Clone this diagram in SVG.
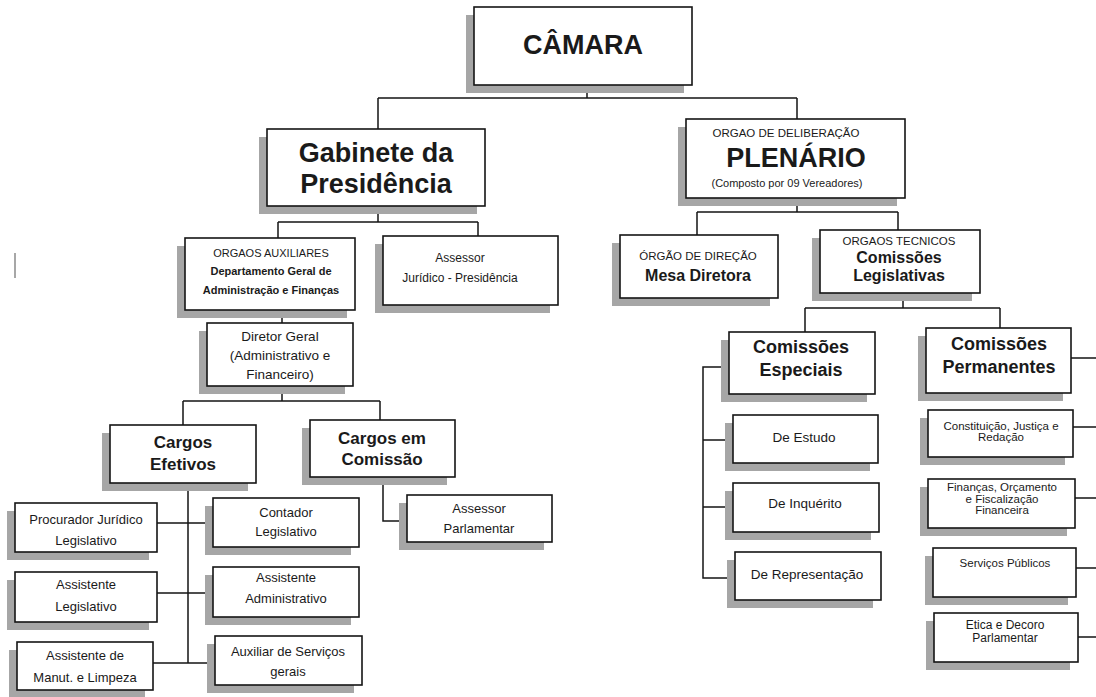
<svg xmlns="http://www.w3.org/2000/svg" width="1096" height="697" viewBox="0 0 1096 697">
<style>
.sh{fill:#a6a6a6}
.bx{fill:#fff;stroke:#151515;stroke-width:1.6}
.cn{fill:none;stroke:#151515;stroke-width:1.5}
text{font-family:"Liberation Sans",Arial,sans-serif;fill:#1a1a1a;text-anchor:middle}
.b{font-weight:bold}
</style>
<rect width="1096" height="697" fill="#fff"/>
<line x1="15" y1="253" x2="15" y2="278" stroke="#8a8a8a" stroke-width="1.5"/>
<g id="connectors" class="cn">
<path d="M587,85V98M378,98H797M378,98V129M797,98V119"/>
<path d="M378,206V222M278,222H478M278,222V238M478,222V236"/>
<path d="M797,198V212M697,212H898M697,212V235M898,212V230"/>
<path d="M282,310V323"/>
<path d="M282,386V401M183,401H380M183,401V425M380,401V420"/>
<path d="M188,483V663M157,523H213M157,593H213M153,663H215"/>
<path d="M383,477V521H407"/>
<path d="M903,293V308M805,308H1000M805,308V332M1000,308V328"/>
<path d="M729,367H703V578H735M703,440H733M703,507H733"/>
<path d="M1071,358H1096M1073,427H1096M1075,498H1096M1076,568H1096M1078,637H1096"/>
</g>
<g id="camara"><rect class="sh" x="466" y="15" width="218" height="78"/><rect class="bx" x="474" y="7" width="218" height="78"/><text class="b" x="583" y="54" font-size="27">CÂMARA</text></g>
<g id="gabinete"><rect class="sh" x="259" y="137" width="218" height="77"/><rect class="bx" x="267" y="129" width="218" height="77"/><text class="b" x="376" y="162" font-size="27">Gabinete da</text><text class="b" x="376" y="193" font-size="27">Presidência</text></g>
<g id="plenario"><rect class="sh" x="678" y="127" width="219" height="79"/><rect class="bx" x="686" y="119" width="219" height="79"/><text x="786" y="137" font-size="11.5">ORGAO DE DELIBERAÇÃO</text><text class="b" x="796" y="167" font-size="27">PLENÁRIO</text><text x="787" y="187" font-size="11">(Composto por 09 Vereadores)</text></g>
<g id="orgaos-auxiliares"><rect class="sh" x="177" y="246" width="170" height="72"/><rect class="bx" x="185" y="238" width="170" height="72"/><text x="271" y="257" font-size="11">ORGAOS AUXILIARES</text><text class="b" x="271" y="275" font-size="11">Departamento Geral de</text><text class="b" x="271" y="294" font-size="11">Administração e Finanças</text></g>
<g id="assessor-juridico"><rect class="sh" x="375" y="244" width="175" height="69"/><rect class="bx" x="383" y="236" width="175" height="69"/><text x="460" y="262" font-size="12">Assessor</text><text x="460" y="282" font-size="12">Jurídico - Presidência</text></g>
<g id="mesa-diretora"><rect class="sh" x="612" y="243" width="158" height="63"/><rect class="bx" x="620" y="235" width="158" height="63"/><text x="698" y="260" font-size="11.5">ÓRGÃO DE DIREÇÃO</text><text class="b" x="698" y="281" font-size="16">Mesa Diretora</text></g>
<g id="comissoes-legislativas"><rect class="sh" x="812" y="238" width="160" height="63"/><rect class="bx" x="820" y="230" width="160" height="63"/><text x="899" y="245" font-size="11.5">ORGAOS TECNICOS</text><text class="b" x="899" y="263" font-size="16">Comissões</text><text class="b" x="899" y="281" font-size="16">Legislativas</text></g>
<g id="diretor-geral"><rect class="sh" x="199" y="331" width="146" height="63"/><rect class="bx" x="207" y="323" width="146" height="63"/><text x="280" y="341" font-size="13.5">Diretor Geral</text><text x="280" y="360" font-size="13.5">(Administrativo e</text><text x="280" y="379" font-size="13.5">Financeiro)</text></g>
<g id="cargos-efetivos"><rect class="sh" x="102" y="433" width="146" height="58"/><rect class="bx" x="110" y="425" width="146" height="58"/><text class="b" x="183" y="448" font-size="17">Cargos</text><text class="b" x="183" y="470" font-size="17">Efetivos</text></g>
<g id="cargos-comissao"><rect class="sh" x="302" y="428" width="145" height="57"/><rect class="bx" x="310" y="420" width="145" height="57"/><text class="b" x="382" y="444" font-size="17">Cargos em</text><text class="b" x="382" y="465" font-size="17">Comissão</text></g>
<g id="procurador"><rect class="sh" x="7" y="511" width="142" height="49"/><rect class="bx" x="15" y="503" width="142" height="49"/><text x="86" y="524" font-size="13">Procurador Jurídico</text><text x="86" y="545" font-size="13">Legislativo</text></g>
<g id="contador"><rect class="sh" x="205" y="506" width="146" height="49"/><rect class="bx" x="213" y="498" width="146" height="49"/><text x="286" y="517" font-size="13">Contador</text><text x="286" y="536" font-size="13">Legislativo</text></g>
<g id="assistente-legislativo"><rect class="sh" x="7" y="580" width="142" height="50"/><rect class="bx" x="15" y="572" width="142" height="50"/><text x="86" y="589" font-size="13">Assistente</text><text x="86" y="611" font-size="13">Legislativo</text></g>
<g id="assistente-administrativo"><rect class="sh" x="205" y="575" width="146" height="50"/><rect class="bx" x="213" y="567" width="146" height="50"/><text x="286" y="582" font-size="13">Assistente</text><text x="286" y="603" font-size="13">Administrativo</text></g>
<g id="assistente-manutencao"><rect class="sh" x="9" y="650" width="136" height="48"/><rect class="bx" x="17" y="642" width="136" height="48"/><text x="85" y="660" font-size="13">Assistente de</text><text x="85" y="682" font-size="13">Manut. e Limpeza</text></g>
<g id="auxiliar-servicos"><rect class="sh" x="207" y="644" width="147" height="49"/><rect class="bx" x="215" y="636" width="147" height="49"/><text x="288" y="656" font-size="13">Auxiliar de Serviços</text><text x="288" y="676" font-size="13">gerais</text></g>
<g id="assessor-parlamentar"><rect class="sh" x="399" y="503" width="145" height="47"/><rect class="bx" x="407" y="495" width="145" height="47"/><text x="479" y="513" font-size="13">Assessor</text><text x="479" y="533" font-size="13">Parlamentar</text></g>
<g id="comissoes-especiais"><rect class="sh" x="721" y="340" width="146" height="62"/><rect class="bx" x="729" y="332" width="146" height="62"/><text class="b" x="801" y="353" font-size="18">Comissões</text><text class="b" x="801" y="376" font-size="18">Especiais</text></g>
<g id="de-estudo"><rect class="sh" x="725" y="423" width="145" height="48"/><rect class="bx" x="733" y="415" width="145" height="48"/><text x="804" y="442" font-size="13.5">De Estudo</text></g>
<g id="de-inquerito"><rect class="sh" x="725" y="491" width="146" height="49"/><rect class="bx" x="733" y="483" width="146" height="49"/><text x="805" y="508" font-size="13.5">De Inquérito</text></g>
<g id="de-representacao"><rect class="sh" x="727" y="560" width="146" height="48"/><rect class="bx" x="735" y="552" width="146" height="48"/><text x="807" y="579" font-size="13.5">De Representação</text></g>
<g id="comissoes-permanentes"><rect class="sh" x="918" y="336" width="145" height="65"/><rect class="bx" x="926" y="328" width="145" height="65"/><text class="b" x="999" y="350" font-size="18">Comissões</text><text class="b" x="999" y="373" font-size="18">Permanentes</text></g>
<g id="constituicao"><rect class="sh" x="920" y="418" width="145" height="47"/><rect class="bx" x="928" y="410" width="145" height="47"/><text x="1001" y="430" font-size="11.5">Constituição, Justiça e</text><text x="1001" y="441" font-size="11.5">Redação</text></g>
<g id="financas"><rect class="sh" x="920" y="487" width="147" height="49"/><rect class="bx" x="928" y="479" width="147" height="49"/><text x="1002" y="491" font-size="11.5">Finanças, Orçamento</text><text x="1002" y="503" font-size="11.5">e Fiscalização</text><text x="1002" y="514" font-size="11.5">Financeira</text></g>
<g id="servicos-publicos"><rect class="sh" x="925" y="556" width="143" height="49"/><rect class="bx" x="933" y="548" width="143" height="49"/><text x="1005" y="567" font-size="11.5">Serviços Públicos</text></g>
<g id="etica"><rect class="sh" x="926" y="621" width="144" height="49"/><rect class="bx" x="934" y="613" width="144" height="49"/><text x="1005" y="629" font-size="12">Etica e Decoro</text><text x="1005" y="642" font-size="12">Parlamentar</text></g>
</svg>
